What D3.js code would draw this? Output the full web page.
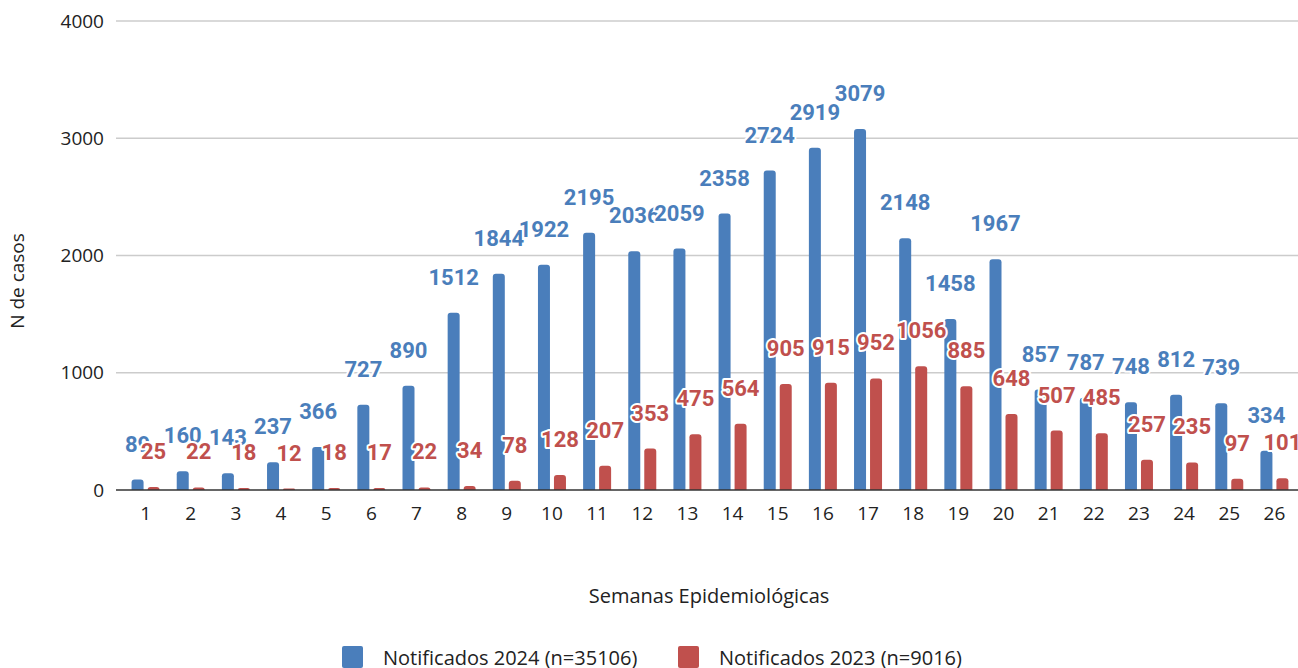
<!DOCTYPE html>
<html lang="es">
<head>
<meta charset="UTF-8">
<title>Notificados por semana</title>
<script src="https://d3js.org/d3.v7.min.js"></script>
<style>
    body, html { margin: 0; padding: 0; background: #fff; overflow: hidden; }
    text { font-family: "Open Sans", sans-serif; }
    .val { font-family: Roboto, sans-serif; font-weight: bold; font-size: 22px;
           paint-order: stroke; stroke: #fff; stroke-width: 4px; stroke-linejoin: round; }
</style>
</head>
<body>
<div id="chart"></div>
<script>
    const weeks = d3.range(1, 27).map(String)
    const notif2024 = [89, 160, 143, 237, 366, 727, 890, 1512, 1844, 1922, 2195, 2036, 2059, 2358, 2724, 2919, 3079, 2148, 1458, 1967, 857, 787, 748, 812, 739, 334]
    const notif2023 = [25, 22, 18, 12, 18, 17, 22, 34, 78, 128, 207, 353, 475, 564, 905, 915, 952, 1056, 885, 648, 507, 485, 257, 235, 97, 101]
    const yTicks = [0, 1000, 2000, 3000, 4000]
    const seriesNames = ["Notificados 2024 (n=35106)", "Notificados 2023 (n=9016)"]
    const colors = ["#4a7ebb", "#c0504d"]

    const width = 1298, height = 668
    const margin = { top: 21, right: 1, bottom: 178, left: 123 }

    const svg = d3.select("#chart").append("svg")
        .attr("width", width)
        .attr("height", height)
        .style("display", "block")

    const x = d3.scaleBand()
        .domain(weeks)
        .range([margin.left, width - margin.right])
        .padding(0)

    const y = d3.scaleLinear()
        .domain([0, 4000])
        .range([height - margin.bottom, margin.top])

    // grid
    svg.append("g")
        .selectAll("line")
        .data(yTicks.slice(1))
        .enter().append("line")
        .attr("x1", 116).attr("x2", width)
        .attr("y1", d => y(d)).attr("y2", d => y(d))
        .attr("stroke", "#cccccc")
        .attr("stroke-width", 1.5)

    // y tick labels
    svg.append("g")
        .selectAll("text")
        .data(yTicks)
        .enter().append("text")
        .attr("x", 104)
        .attr("y", d => y(d))
        .attr("dy", "0.35em")
        .attr("text-anchor", "end")
        .attr("font-size", 19)
        .attr("fill", "#222")
        .text(d => d)

    const barW = 12, gap = 4
    const offsets = [-(gap / 2 + barW), gap / 2]
    const series = [notif2024, notif2023]

    // rounded top bar path
    function barPath(x0, v) {
        const y0 = y(0), y1 = y(v), r = Math.min(3, (y0 - y1))
        return `M${x0},${y0}V${y1 + r}Q${x0},${y1} ${x0 + r},${y1}H${x0 + barW - r}Q${x0 + barW},${y1} ${x0 + barW},${y1 + r}V${y0}Z`
    }

    series.forEach((vals, s) => {
        svg.append("g")
            .selectAll("path")
            .data(vals)
            .enter().append("path")
            .attr("d", (d, i) => barPath(x(weeks[i]) + x.bandwidth() / 2 + offsets[s], d))
            .attr("fill", colors[s])
    })

    // baseline
    svg.append("line")
        .attr("x1", 116).attr("x2", width)
        .attr("y1", y(0)).attr("y2", y(0))
        .attr("stroke", "#333")
        .attr("stroke-width", 1.5)

    // value labels
    series.forEach((vals, s) => {
        svg.append("g")
            .selectAll("text")
            .data(vals)
            .enter().append("text")
            .attr("class", "val")
            .attr("x", (d, i) => x(weeks[i]) + x.bandwidth() / 2 + offsets[s] + barW / 2)
            .attr("y", d => y(d) - 28)
            .attr("text-anchor", "middle")
            .attr("fill", colors[s])
            .text(d => d)
    })

    // x tick labels
    svg.append("g")
        .selectAll("text")
        .data(weeks)
        .enter().append("text")
        .attr("x", d => x(d) + x.bandwidth() / 2)
        .attr("y", 520)
        .attr("text-anchor", "middle")
        .attr("font-size", 19)
        .attr("fill", "#222")
        .text(d => d)

    // axis titles
    svg.append("text")
        .attr("x", 709).attr("y", 603)
        .attr("text-anchor", "middle")
        .attr("font-size", 20)
        .attr("fill", "#222")
        .text("Semanas Epidemiológicas")

    svg.append("text")
        .attr("transform", "translate(24,281) rotate(-90)")
        .attr("text-anchor", "middle")
        .attr("font-size", 19)
        .attr("fill", "#222")
        .text("N de casos")

    // legend
    const legendX = [342, 678]
    const legend = svg.append("g")
    seriesNames.forEach((name, s) => {
        legend.append("rect")
            .attr("x", legendX[s]).attr("y", 646)
            .attr("width", 21).attr("height", 22)
            .attr("rx", 2)
            .attr("fill", colors[s])
        legend.append("text")
            .attr("x", legendX[s] + 41).attr("y", 665)
            .attr("font-size", 20)
            .attr("fill", "#222")
            .text(name)
    })
</script>
</body>
</html>
